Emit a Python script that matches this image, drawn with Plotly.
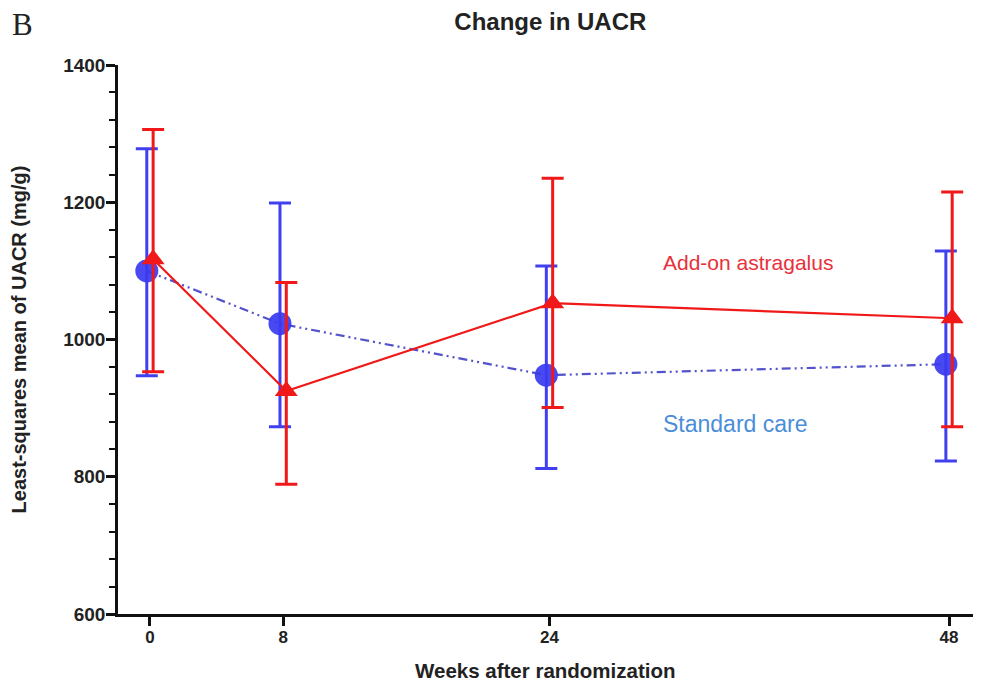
import plotly.graph_objects as go

weeks = [0, 8, 24, 48]
tick_labels = ["0", "8", "24", "48"]

astragalus_mean = [1117, 925, 1053, 1031]
astragalus_upper = [1306, 1083, 1235, 1215]
astragalus_lower = [953, 789, 901, 873]

standard_mean = [1100, 1023, 948, 964]
standard_upper = [1278, 1199, 1107, 1129]
standard_lower = [947, 873, 812, 823]

dodge = 0.19  # small horizontal offset between groups (weeks)

RED = "#f01818"
BLUE = "#3a3af0"

fig = go.Figure()

fig.add_trace(go.Scatter(
    x=[w - dodge for w in weeks], y=standard_mean,
    mode="lines+markers",
    line=dict(color="#5252cc", width=2.2, dash="9px,4px,2px,4px,2px,4px"),
    marker=dict(symbol="circle", size=23, color=BLUE, opacity=0.92),
    error_y=dict(type="data", symmetric=False,
                 array=[u - m for u, m in zip(standard_upper, standard_mean)],
                 arrayminus=[m - l for m, l in zip(standard_mean, standard_lower)],
                 color="#4040ee", thickness=3, width=11),
    name="Standard care", showlegend=False,
))

fig.add_trace(go.Scatter(
    x=[w + dodge for w in weeks], y=astragalus_mean,
    mode="lines+markers",
    line=dict(color=RED, width=2.2),
    marker=dict(symbol="triangle-up", size=20, color=RED),
    error_y=dict(type="data", symmetric=False,
                 array=[u - m for u, m in zip(astragalus_upper, astragalus_mean)],
                 arrayminus=[m - l for m, l in zip(astragalus_mean, astragalus_lower)],
                 color=RED, thickness=3, width=11),
    name="Add-on astragalus", showlegend=False,
))

fig.add_annotation(x=35.9, y=1112, text="Add-on astragalus", showarrow=False,
                   font=dict(family="Liberation Sans, Arial", size=21, color="#e8303a"))
fig.add_annotation(x=35.15, y=877, text="Standard care", showarrow=False,
                   font=dict(family="Liberation Sans, Arial", size=23, color="#4a8ed8"))

fig.add_annotation(xref="paper", yref="paper", x=-0.126, y=1.074, xanchor="left", yanchor="middle",
                   text="B", showarrow=False,
                   font=dict(family="Liberation Serif, Times New Roman", size=31, color="#222"))

fig.add_annotation(xref="paper", yref="paper", x=0.5, y=-0.103, xanchor="center", yanchor="middle",
                   text="<b>Weeks after randomization</b>", showarrow=False,
                   font=dict(family="Liberation Sans, Arial", size=20.5, color="#222"))

fig.update_layout(
    width=965, height=675,
    margin=dict(l=110, r=0, t=57, b=69),
    paper_bgcolor="white", plot_bgcolor="white",
    title=dict(text="<b>Change in UACR</b>", x=0.562, xanchor="center", y=0.98, yanchor="middle",
               automargin=False,
               font=dict(family="Liberation Sans, Arial", size=24, color="#222")),
    font=dict(family="Liberation Sans, Arial", color="#222"),
)

fig.update_xaxes(
    range=[-1.92, 49.44], tickvals=weeks, ticktext=tick_labels, automargin=False,
    showline=True, linecolor="#111", linewidth=2.5,
    ticks="outside", ticklen=9, tickwidth=2.5, tickcolor="#111",
    ticklabelstandoff=-3,
    showgrid=False, zeroline=False,
    tickfont=dict(family="Liberation Sans, Arial", size=17, color="#222", weight="bold"),
)

fig.update_yaxes(
    range=[600, 1400], dtick=200, tick0=600, automargin=False,
    showline=True, linecolor="#111", linewidth=2.5,
    ticks="outside", ticklen=9, tickwidth=2.5, tickcolor="#111",
    ticklabelstandoff=-3,
    minor=dict(ticks="outside", ticklen=6, tickwidth=2, tickcolor="#111", dtick=40),
    showgrid=False, zeroline=False,
    tickfont=dict(family="Liberation Sans, Arial", size=19, color="#222", weight="bold"),
    tickformat="d",
    title=dict(text="<b>Least-squares mean of UACR (mg/g)</b>", standoff=33,
               font=dict(family="Liberation Sans, Arial", size=20, color="#222")),
)

fig.write_html("out.html")
